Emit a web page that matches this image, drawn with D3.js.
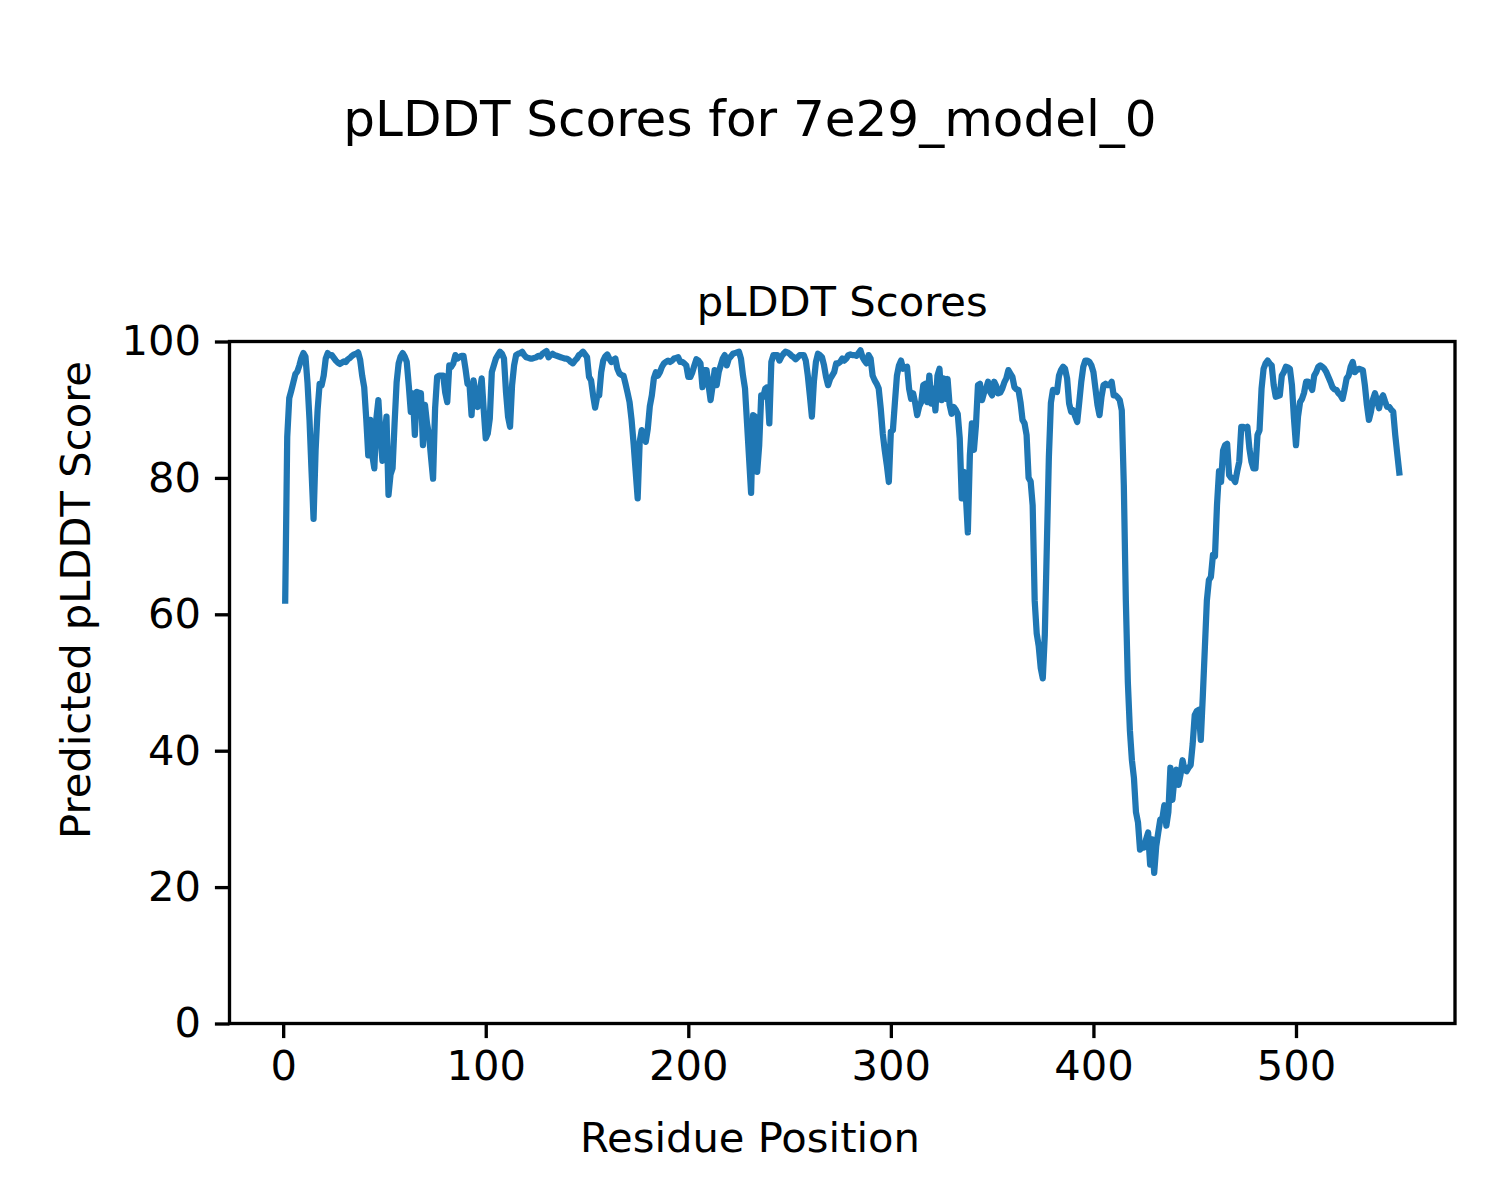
<!DOCTYPE html>
<meta charset="utf-8">
<html>
<head><title>pLDDT scores</title>
    <script src="https://cdn.jsdelivr.net/npm/d3@7/dist/d3.min.js"></script>
    <style>
        body { margin: 0; background: #fff; }
        text { font-family: "DejaVu Sans", sans-serif; fill: #000; }
        .axis path, .axis line { stroke: #000; stroke-width: 3.33; }
        .axis text { font-size: 41.67px; }
        .frame { fill: none; stroke: #000; stroke-width: 3.33; }
        .scoreLine { fill: none; stroke: #1f77b4; stroke-width: 6.25; stroke-linejoin: round; stroke-linecap: square; }
    </style>
</head>
<body>
<div id="chart"></div>
<script>

    // predicted pLDDT per residue, residues 1..551
    var plddt = [
        62, 86, 91.7, 92.8, 94, 95.2, 95.6, 96.5, 97.6, 98.3,
        97.8, 94, 88.5, 81, 74, 84, 90, 93.8, 93.6, 95,
        97.5, 98.3, 98, 98, 97.6, 97.2, 96.9, 96.7, 96.9, 97.1,
        97, 97.4, 97.6, 97.9, 98.1, 98.2, 98.4, 97.3, 95, 93.3,
        88.7, 83.3, 88.5, 83.3, 81.4, 88.7, 91.4, 86.3, 82.5, 86,
        89, 77.5, 80.5, 81.4, 88, 94, 96.8, 97.8, 98.3, 97.8,
        97, 93.6, 89.7, 92.4, 86.3, 92.6, 92.5, 92.4, 84.8, 90.7,
        88, 86.3, 83, 79.9, 90.2, 94.8, 95, 95, 95, 92.5,
        91.1, 96.5, 96.3, 96.8, 98, 97.5, 97.7, 97.9, 97.9, 96,
        93.8, 93.6, 89.2, 94.3, 92, 90.4, 92.5, 94.6, 90, 85.8,
        86.5, 88.7, 95.5, 96.5, 97.5, 98, 98.5, 98.2, 97.5, 92.6,
        89, 87.5, 93.6, 96.5, 98, 98.2, 98.3, 98.5, 98, 97.7,
        97.6, 97.5, 97.5, 97.6, 97.7, 97.9, 97.8, 98.2, 98.4, 98.6,
        97.7, 98, 98.2, 98, 97.9, 97.8, 97.7, 97.6, 97.5, 97.5,
        97.3, 97, 96.8, 97.2, 97.5, 98, 98.2, 98.5, 98.1, 97.7,
        94.8, 94.3, 92.1, 90.3, 91.9, 92.1, 95.5, 97.2, 97.8, 98.1,
        97.5, 97, 97.3, 97.5, 96, 95.3, 95.1, 95, 93.8, 92.5,
        91.1, 88.5, 85, 81, 77, 85.3, 87, 86, 85.3, 87.2,
        90.5, 92.1, 94.6, 95.5, 95, 95.5, 96.3, 96.8, 97, 97.2,
        97, 97.2, 97.5, 97.6, 97.7, 97, 97, 96.8, 96.5, 94.8,
        94.8, 95.5, 96.5, 97.4, 97.2, 96.8, 93.3, 95.8, 95.8, 93.6,
        91.4, 93.5, 95.8, 93.6, 95.5, 96.5, 97.5, 98, 96.5, 97.5,
        97.8, 98.2, 98.3, 98.4, 98.5, 97.5, 95, 93.1, 88, 82.9,
        77.8, 89.2, 89, 80.9, 84.8, 92.1, 91.9, 93.1, 93.3, 88,
        97, 98, 98, 98, 97.2, 97.8, 98.2, 98.5, 98.4, 98.2,
        97.9, 97.7, 97.4, 97.7, 98, 98, 98, 97.2, 95, 92.1,
        89, 94.1, 97, 98.2, 98, 97.7, 96.5, 94.8, 93.6, 94.5,
        95, 95.5, 96.8, 96.8, 97, 97.5, 97.2, 97.5, 98, 98.1,
        98, 98, 97.9, 98.3, 98.7, 97.7, 97.2, 96.8, 98, 97.5,
        95, 94.3, 93.8, 93.1, 90.2, 86.5, 84, 81.9, 79.4, 86.8,
        87, 91.1, 95, 96.5, 97.2, 96, 96.2, 96.3, 93.1, 91.6,
        92.4, 91, 89.2, 90.5, 91.1, 93.6, 93.8, 91.1, 95, 90.9,
        93.1, 89.9, 95, 96, 91.4, 94.6, 91.6, 94.5, 90.7, 89.4,
        90.4, 90, 89.4, 85.8, 77, 80.9, 77.5, 72, 83.3, 88,
        84.1, 87.7, 93.6, 93.8, 91.4, 92.5, 93.1, 94.1, 92.6, 92.1,
        94.1, 93.5, 92.4, 92.5, 93.1, 94, 94.6, 95.8, 95.3, 94.8,
        93.3, 93, 92.9, 91.1, 88.5, 88, 86.3, 80, 79.5, 76,
        62, 57.2, 55.3, 52.1, 50.6, 57, 70, 83, 91, 92.9,
        92.8, 92.6, 95, 95.8, 96.3, 96, 94.6, 90.9, 89.7, 89.9,
        89, 88.2, 91.1, 94.1, 96.3, 97.2, 97.2, 97, 96.5, 95.5,
        93.1, 90.7, 89.2, 91.9, 93.6, 93.8, 93.6, 93.6, 94.1, 92.1,
        92.1, 91.8, 91.4, 89.9, 79, 62, 50, 43, 38.6, 36,
        31, 29.5, 25.5, 25.8, 25.8, 27, 28, 23.3, 27, 22.1,
        26, 28, 29.9, 30, 32, 29, 31, 37.5, 32.8, 36,
        37.2, 35, 36.5, 38.6, 37.2, 37, 37.5, 37.9, 41, 45.2,
        45.8, 46, 41.6, 48, 55, 62, 65, 65.5, 68.7, 68.5,
        76, 81, 79.4, 84, 84.8, 85, 80.4, 80, 79.9, 79.4,
        81, 82.4, 87.5, 87.5, 87.3, 87.5, 84.3, 82.4, 81.4, 81.4,
        86.3, 87, 93.1, 96, 96.8, 97.2, 96.8, 96.5, 93.6, 91.9,
        92, 92.1, 95, 95.5, 96.3, 96.2, 96, 93.6, 88.7, 84.8,
        89, 91.1, 91.6, 92.5, 94.1, 94.1, 93.5, 92.9, 95, 95.5,
        96.3, 96.5, 96.3, 96, 95.5, 94.8, 94.1, 93.3, 93, 92.9,
        92.4, 92.1, 91.6, 93, 94.6, 95, 96.3, 97, 95.5, 95.8,
        96, 95.9, 95.8, 93.6, 90.7, 88.5, 89.7, 91.5, 92.4, 91.4,
        90.2, 91.6, 92.1, 91.2, 90.4, 90.4, 90, 89.7, 86.3, 83.5,
        80.8
    ];

    var yTicks = [0, 20, 40, 60, 80, 100];
    var xTicks = [0, 100, 200, 300, 400, 500];

    var figTitle = "pLDDT Scores for 7e29_model_0";
    var axTitle = "pLDDT Scores";
    var xLabel = "Residue Position";
    var yLabel = "Predicted pLDDT Score";

    var W = 1500, H = 1200;
    // axes box in pixels
    var boxL = 229.5, boxR = 1455, boxT = 341.5, boxB = 1023.5;

    var svg = d3.select("#chart").append("svg")
            .attr("width", W)
            .attr("height", H);

    var n = plddt.length;
    var pad = 0.05 * (n - 1);
    var x = d3.scaleLinear().domain([1 - pad, n + pad]).range([boxL, boxR]);
    var y = d3.scaleLinear().domain([0, 100]).range([boxB, boxT]);

    var line = d3.line()
            .x(function(d, i) { return x(i + 1); })
            .y(function(d) { return y(d); });

    svg.append("path")
            .datum(plddt)
            .attr("class", "scoreLine")
            .attr("d", line);

    var xAxis = d3.axisBottom(x).tickValues(xTicks).tickSize(14.6).tickSizeOuter(0).tickPadding(12);
    var yAxis = d3.axisLeft(y).tickValues(yTicks).tickSize(14.6).tickSizeOuter(0).tickPadding(14);

    svg.append("g").attr("class", "axis")
            .attr("transform", "translate(0," + boxB + ")")
            .call(xAxis)
            .call(function(g) { g.select(".domain").remove(); });

    svg.append("g").attr("class", "axis")
            .attr("transform", "translate(" + boxL + ",0)")
            .call(yAxis)
            .call(function(g) { g.select(".domain").remove(); });

    svg.selectAll(".axis text").attr("font-family", "DejaVu Sans");

    svg.append("rect")
            .attr("class", "frame")
            .attr("x", boxL)
            .attr("y", boxT)
            .attr("width", boxR - boxL)
            .attr("height", boxB - boxT);

    svg.append("text")
            .attr("x", W / 2).attr("y", 136)
            .attr("text-anchor", "middle")
            .style("font-size", "50px")
            .text(figTitle);

    svg.append("text")
            .attr("x", (boxL + boxR) / 2).attr("y", 316)
            .attr("text-anchor", "middle")
            .style("font-size", "41.67px")
            .text(axTitle);

    svg.append("text")
            .attr("x", W / 2).attr("y", 1152)
            .attr("text-anchor", "middle")
            .style("font-size", "41.67px")
            .text(xLabel);

    svg.append("text")
            .attr("transform", "translate(90,600) rotate(-90)")
            .attr("text-anchor", "middle")
            .style("font-size", "41.67px")
            .text(yLabel);

</script>
</body>
</html>
